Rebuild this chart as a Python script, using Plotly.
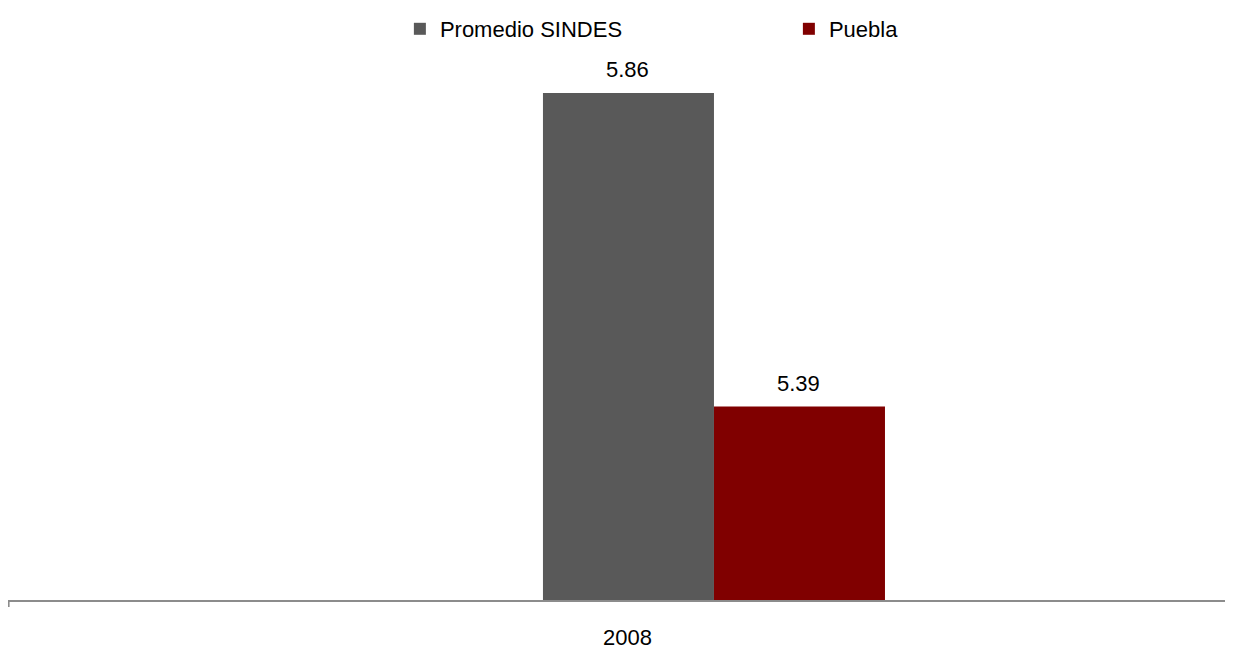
import plotly.graph_objects as go

categories = ["2008"]
series_names = ["Promedio SINDES", "Puebla"]
promedio_sindes = [5.86]
puebla = [5.39]
colors = ["#595959", "#800000"]

FONT = "Liberation Sans, Arial, sans-serif"
FS = 22

fig = go.Figure()
series_values = [promedio_sindes, puebla]
shifts = [-86, 85]
for name, vals, col in zip(series_names, series_values, colors):
    fig.add_trace(go.Bar(
        x=categories, y=vals, name=name, marker_color=col, marker_line_width=0,
    ))

for vals, sh in zip(series_values, shifts):
    for i, v in enumerate(vals):
        fig.add_annotation(x=i, y=v, xref="x", yref="y", xshift=sh, yshift=9,
                           text=f"{v:.2f}", showarrow=False, yanchor="bottom",
                           font=dict(family=FONT, size=FS, color="#000000"))

fig.update_layout(
    width=1225, height=642,
    margin=dict(l=0, r=0, t=0, b=50),
    plot_bgcolor="white", paper_bgcolor="white",
    barmode="group", bargap=0.7208, bargroupgap=0,
    showlegend=True,
    legend=dict(orientation="h", x=0.3199, xanchor="left", y=0.9662, yanchor="middle",
                font=dict(family=FONT, size=FS, color="#000000"),
                entrywidth=344, entrywidthmode="pixels", bgcolor="rgba(0,0,0,0)"),
    font=dict(family=FONT, size=FS, color="#000000"),
)
fig.update_xaxes(type="category", range=[-0.5763, 0.4237], showticklabels=False,
                 showline=True, linecolor="#8c8c8c", linewidth=2, ticks="", showgrid=False)
fig.update_yaxes(range=[5.1, 5.986], visible=False, showgrid=False)

# category label
for i, c in enumerate(categories):
    fig.add_annotation(x=i, xref="x", xshift=-86, y=0, yref="paper", yshift=-37,
                       text=c, showarrow=False, yanchor="middle", borderpad=0,
                       font=dict(family=FONT, size=FS, color="#000000"))
# left tick mark
fig.add_shape(type="line", xref="paper", yref="paper", x0=0.0005, x1=0.0005, y0=0, y1=-7,
              ysizemode="pixel", yanchor=0, line=dict(color="#8c8c8c", width=2))

fig.write_html("out.html")
